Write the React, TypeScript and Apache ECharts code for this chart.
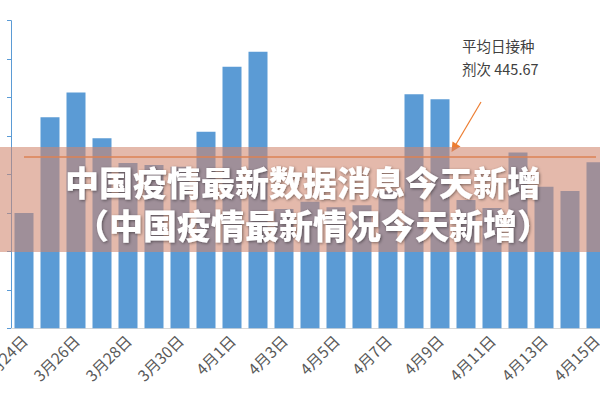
import React, { useEffect, useRef } from "react";
import * as echarts from "echarts";

const categories = [
  "3月24日", "3月25日", "3月26日", "3月27日", "3月28日", "3月29日", "3月30日", "3月31日",
  "4月1日", "4月2日", "4月3日", "4月4日", "4月5日", "4月6日", "4月7日", "4月8日",
  "4月9日", "4月10日", "4月11日", "4月12日", "4月13日", "4月14日", "4月15日",
];
const doses = [
  300, 549, 613, 494, 430, 425, 420, 511,
  680, 719, 310, 329, 315, 320, 358, 609,
  596, 334, 313, 457, 368, 357, 432,
];
const averageDoses = 445.67;
const yTicks = { min: 0, max: 800, interval: 100 };
const noteLines = ["平均日接种", "剂次 445.67"];
const bannerLines = ["中国疫情最新数据消息今天新增", "（中国疫情最新情况今天新增）"];

export default function App() {
  const ref = useRef<HTMLDivElement>(null);
  useEffect(() => {
    if (!ref.current) return;
    const chart = echarts.init(ref.current, null, { renderer: "svg" });
    const font = "'Noto Sans CJK SC', 'Noto Sans', sans-serif";
    const bannerStyle = {
      fill: "#FFFFFF",
      fontSize: 34,
      fontWeight: 900,
      fontFamily: font,
      align: "center",
      verticalAlign: "middle",
      textShadowColor: "rgba(0,0,0,0.45)",
      textShadowBlur: 3,
      textShadowOffsetX: 1,
      textShadowOffsetY: 1,
    };
    chart.setOption({
      animation: false,
      grid: {
        left: 11,
        right: -9,
        top: 20.7,
        bottom: 71.7,
        containLabel: false,
        outerBoundsMode: "none",
      },
      xAxis: {
        type: "category",
        data: categories,
        axisLine: { lineStyle: { color: "#D9D9D9", width: 1 } },
        axisTick: { length: 5, lineStyle: { color: "#D9D9D9" } },
        axisLabel: {
          interval: 1,
          rotate: 45,
          color: "#595959",
          fontSize: 15.5,
          fontFamily: font,
          margin: 9,
        },
      },
      yAxis: {
        type: "value",
        min: yTicks.min,
        max: yTicks.max,
        interval: yTicks.interval,
        axisLine: { show: true, lineStyle: { color: "#5B9BD5", width: 1 } },
        axisTick: { show: true, length: 4, lineStyle: { color: "#5B9BD5" } },
        axisLabel: { show: false },
        splitLine: { show: false },
      },
      series: [
        {
          type: "bar",
          data: doses,
          barWidth: 19,
          itemStyle: { color: "#5B9BD5" },
          markLine: {
            symbol: "none",
            silent: true,
            label: { show: false },
            lineStyle: { color: "#ED7D31", width: 1.5, type: "solid" },
            data: [
              [
                { coord: [0, averageDoses] },
                { coord: [categories.length - 1, averageDoses] },
              ],
            ],
          },
        },
      ],
      graphic: [
        {
          type: "text",
          left: 462,
          top: 38,
          style: { text: noteLines[0], fill: "#404040", fontSize: 14.5, fontFamily: font },
        },
        {
          type: "text",
          left: 462,
          top: 61,
          style: { text: noteLines[1], fill: "#404040", fontSize: 14.5, fontFamily: font },
        },
        {
          type: "line",
          shape: { x1: 481, y1: 102, x2: 455, y2: 146 },
          style: { stroke: "#ED7D31", lineWidth: 1.2 },
        },
        {
          type: "polygon",
          shape: { points: [[451.5, 152], [460.5, 146.5], [452.5, 141.5]] },
          style: { fill: "#ED7D31" },
        },
        {
          type: "rect",
          z: 100,
          shape: { x: 0, y: 147, width: 600, height: 105 },
          style: { fill: "rgba(209,135,110,0.58)" },
        },
        {
          type: "text",
          z: 101,
          x: 303,
          y: 181,
          style: { ...bannerStyle, text: bannerLines[0] },
        },
        {
          type: "text",
          z: 101,
          x: 313,
          y: 224,
          style: { ...bannerStyle, text: bannerLines[1] },
        },
      ],
    });
    return () => chart.dispose();
  }, []);
  return (
    <div
      ref={ref}
      style={{ position: "fixed", left: 0, top: 0, width: 600, height: 400, background: "#fff" }}
    />
  );
}
